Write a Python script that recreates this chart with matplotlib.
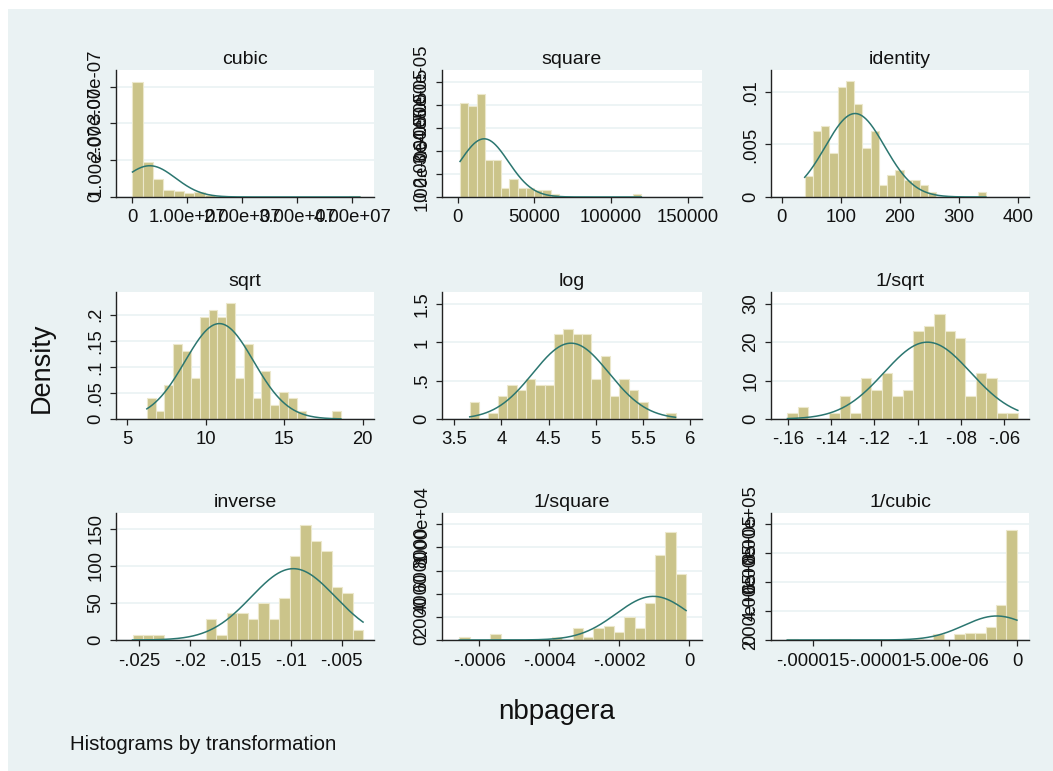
import numpy as np
import matplotlib
matplotlib.use("Agg")
import matplotlib.pyplot as plt
from matplotlib.patches import Rectangle

plt.rcParams['font.family'] = ['Liberation Sans', 'DejaVu Sans']

# ---------------- data ----------------
titles = ["cubic", "square", "identity", "sqrt", "log", "1/sqrt",
          "inverse", "1/square", "1/cubic"]

# data range (min, max) of each transformed variable
ranges = {
    "cubic": (5.93e4, 4.142e7),
    "square": (1521.0, 119716.0),
    "identity": (39.0, 346.0),
    "sqrt": (6.245, 18.60),
    "log": (3.664, 5.846),
    "1/sqrt": (-0.16013, -0.05376),
    "inverse": (-0.025641, -0.00289),
    "1/square": (-0.0006575, -8.35e-6),
    "1/cubic": (-1.686e-5, -2.41e-8),
}

# histogram densities (22 equal-width bins between min and max)
cubic_density = [v * 1e-7 for v in
                 [3.12, 0.96, 0.50, 0.18, 0.15, 0.12, 0.14, 0.05, 0.04, 0, 0,
                  0, 0, 0, 0, 0, 0, 0, 0, 0, 0, 0.04]]
square_density = [v * 1e-5 for v in
                  [4.08, 3.94, 4.45, 1.60, 1.60, 0.41, 0.80, 0.41, 0.41, 0.29, 0.29,
                   0.12, 0, 0, 0, 0, 0, 0, 0, 0, 0, 0.12]]
identity_density = [0.0020, 0.0063, 0.0068, 0.0042, 0.01045, 0.0110, 0.0089, 0.0047,
                    0.0063, 0.0011, 0.0021, 0.0026, 0.0016, 0.0016, 0.0011, 0.0005,
                    0, 0, 0, 0, 0, 0.0005]
sqrt_density = [0.040, 0.0147, 0.066, 0.1436, 0.131, 0.0795, 0.196, 0.209, 0.196,
                0.222, 0.0795, 0.1436, 0.040, 0.0917, 0.026, 0.052, 0.040, 0.0147,
                0, 0, 0, 0.0147]
log_density = [0.218, 0, 0.074, 0.297, 0.45, 0.375, 0.52, 0.45, 0.45, 1.11, 1.18,
               1.11, 1.11, 0.52, 0.82, 0.297, 0.52, 0.375, 0.218, 0, 0, 0.074]
invsqrt_density = [1.48, 3.04, 0, 0, 1.48, 6.1, 1.48, 10.6, 7.5, 12.1, 6.1, 7.5,
                   22.8, 24.2, 27.2, 22.8, 21.2, 6.1, 12.1, 10.6, 1.48, 1.48]
inverse_density = [7.2, 7.2, 7.2, 0, 0, 0, 0, 29, 7, 36, 36, 28, 50, 28, 57, 113,
                   156, 134, 120, 71, 63, 14]
invsquare_density = [230, 0, 0, 519, 0, 0, 0, 0, 0, 230, 0, 1037, 230, 1037, 1239,
                     720, 2017, 1037, 3228, 7378, 9366, 5677]
invcubic_density = [9800, 0, 0, 0, 9800, 9800, 0, 0, 0, 0, 0, 0, 7000, 0, 41500, 0,
                    41500, 50700, 50700, 87600, 242000, 760800]

densities = {
    "cubic": cubic_density, "square": square_density, "identity": identity_density,
    "sqrt": sqrt_density, "log": log_density, "1/sqrt": invsqrt_density,
    "inverse": inverse_density, "1/square": invsquare_density, "1/cubic": invcubic_density,
}

# mean and sd of normal overlay
normal_params = {
    "cubic": (3.2e6, 4.69e6),
    "square": (17240.0, 15830.0),
    "identity": (124.3, 50.2),
    "sqrt": (10.86, 2.18),
    "log": (4.737, 0.4025),
    "1/sqrt": (-0.0955, 0.01995),
    "inverse": (-0.00977, 0.004139),
    "1/square": (-1.021e-4, 1.057e-4),
    "1/cubic": (-1.514e-6, 2.403e-6),
}

# tick values and labels
xticks = {
    "cubic": ([0, 1e7, 2e7, 3e7, 4e7], ["0", "1.00e+07", "2.00e+07", "3.00e+07", "4.00e+07"]),
    "square": ([0, 50000, 100000, 150000], ["0", "50000", "100000", "150000"]),
    "identity": ([0, 100, 200, 300, 400], ["0", "100", "200", "300", "400"]),
    "sqrt": ([5, 10, 15, 20], ["5", "10", "15", "20"]),
    "log": ([3.5, 4, 4.5, 5, 5.5, 6], ["3.5", "4", "4.5", "5", "5.5", "6"]),
    "1/sqrt": ([-.16, -.14, -.12, -.1, -.08, -.06], ["-.16", "-.14", "-.12", "-.1", "-.08", "-.06"]),
    "inverse": ([-.025, -.02, -.015, -.01, -.005], ["-.025", "-.02", "-.015", "-.01", "-.005"]),
    "1/square": ([-.0006, -.0004, -.0002, 0], ["-.0006", "-.0004", "-.0002", "0"]),
    "1/cubic": ([-1.5e-5, -1e-5, -5e-6, 0], ["-.000015", "-.00001", "-5.00e-06", "0"]),
}
yticks = {
    "cubic": ([0, 1e-7, 2e-7, 3e-7], ["0", "1.00e-07", "2.00e-07", "3.00e-07"]),
    "square": ([0, 1e-5, 2e-5, 3e-5, 4e-5, 5e-5], ["0", "1.00e-05", "2.00e-05", "3.00e-05", "4.00e-05", "5.00e-05"]),
    "identity": ([0, .005, .01], ["0", ".005", ".01"]),
    "sqrt": ([0, .05, .1, .15, .2], ["0", ".05", ".1", ".15", ".2"]),
    "log": ([0, .5, 1, 1.5], ["0", ".5", "1", "1.5"]),
    "1/sqrt": ([0, 10, 20, 30], ["0", "10", "20", "30"]),
    "inverse": ([0, 50, 100, 150], ["0", "50", "100", "150"]),
    "1/square": ([0, 2000, 4000, 6000, 8000, 10000], ["0", "2000", "4000", "6000", "8000", "1.00e+04"]),
    "1/cubic": ([0, 2e5, 4e5, 6e5, 8e5], ["0", "2.00e+05", "4.00e+05", "6.00e+05", "8.00e+05"]),
}

# ---------------- layout / style ----------------
W, H = 1053, 771
BG = '#EAF2F3'
BAR = '#CBC48A'
BAR_EDGE = '#ECE8CC'
CURVE = '#2B7670'

axis_limits = {
    "cubic": ((-0.294e7, 4.4e7), (0, 3.455e-7)),
    "square": ((-10240, 159260), (0, 5.50e-5)),
    "identity": ((-18.1, 419), (0, 0.01209)),
    "sqrt": ((4.28, 20.71), (0, 0.2436)),
    "log": ((3.37, 6.126), (0, 1.66)),
    "1/sqrt": ((-0.1677, -0.0486), (0, 33.05)),
    "inverse": ((-0.02727, -0.001809), (0, 171.6)),
    "1/square": ((-0.000707, 3.72e-5), (0, 10980)),
    "1/cubic": ((-1.805e-5, 8.6e-7), (0, 878000)),
}

cols = [(116, 374), (442, 702), (771, 1029)]
rows = [(70, 197), (292, 419), (513, 640)]

fig = plt.figure(figsize=(W / 100, H / 100), dpi=100, facecolor='white')
fig.patches.append(Rectangle((8 / W, 0), 1 - 8 / W, 1 - 9 / H, transform=fig.transFigure,
                             facecolor=BG, edgecolor='none', zorder=-10))

for i, name in enumerate(titles):
    r, c = divmod(i, 3)
    L, R = cols[c]
    T, B = rows[r]
    ax = fig.add_axes([L / W, 1 - B / H, (R - L) / W, (B - T) / H])
    ax.set_facecolor('white')
    ax.set_axisbelow(True)

    lo, hi = ranges[name]
    dens = densities[name]
    nb = len(dens)
    edges = np.linspace(lo, hi, nb + 1)
    w = edges[1] - edges[0]
    ax.bar(edges[:-1], dens, width=w, align='edge', color=BAR,
           edgecolor=BAR_EDGE, linewidth=0.8, zorder=2)

    mu, sd = normal_params[name]
    xs = np.linspace(lo, hi, 400)
    ys = np.exp(-0.5 * ((xs - mu) / sd) ** 2) / (sd * np.sqrt(2 * np.pi))
    ax.plot(xs, ys, color=CURVE, linewidth=1.1, zorder=3)

    (x0, x1), (y0, y1) = axis_limits[name]
    ax.set_xlim(x0, x1)
    ax.set_ylim(y0, y1)

    xt, xl = xticks[name]
    yt, yl = yticks[name]
    ax.set_xticks(xt)
    ax.set_xticklabels(xl)
    ax.set_yticks(yt)
    ax.set_yticklabels(yl, rotation=90, va='center')

    ax.yaxis.grid(True, color=BG, linewidth=1.2)
    ax.xaxis.grid(False)
    for s in ['top', 'right']:
        ax.spines[s].set_visible(False)
    for s in ['left', 'bottom']:
        ax.spines[s].set_color('#222222')
        ax.spines[s].set_linewidth(1.0)
    ax.tick_params(axis='both', direction='out', length=4.5, width=0.9,
                   color='#222222', labelsize=13.3, labelcolor='#111111')
    ax.tick_params(axis='x', pad=4.5)
    ax.tick_params(axis='y', pad=4)
    ax.set_title(name, fontsize=14, pad=4.5, color='#111111')

fig.text(42 / W, 1 - 368 / H, "Density", rotation=90, fontsize=19.5,
         ha='center', va='center', color='#111111')
fig.text(557 / W, 1 - 712 / H, "nbpagera", fontsize=20,
         ha='center', va='center', color='#111111')
fig.text(70 / W, 1 - 745 / H, "Histograms by transformation", fontsize=14.7,
         ha='left', va='center', color='#111111')

fig.savefig("out.png", dpi=100, facecolor=fig.get_facecolor())
